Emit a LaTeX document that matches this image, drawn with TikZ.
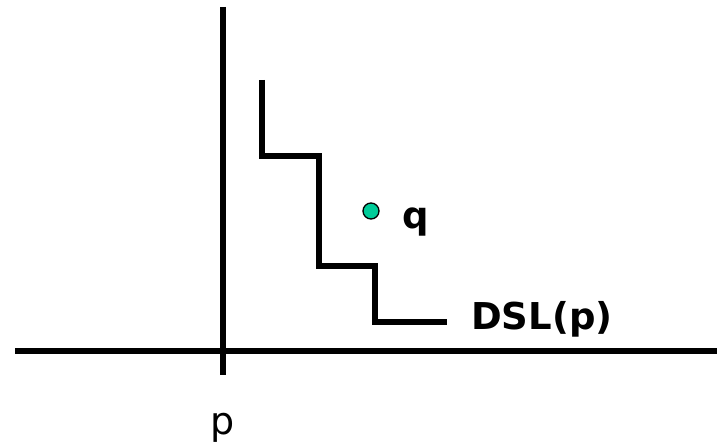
\documentclass[tikz,border=0pt]{standalone}
\usepackage{fontspec}
\setmainfont{DejaVu Sans}
\definecolor{dotgreen}{RGB}{0,204,153}
\begin{document}
\begin{tikzpicture}[x=1pt,y=-1pt,
  axis/.style={line width=6pt,line cap=butt},
  stair/.style={line width=6pt,line cap=butt,line join=miter},
  lbl/.style={inner sep=0pt,font=\fontsize{37}{40}\selectfont\bfseries},
  plbl/.style={inner sep=0pt,font=\fontsize{38}{40}\selectfont}]
\path[use as bounding box] (0,0) rectangle (717,446);
% axes
\coordinate (vtop) at (223,7);
\coordinate (vbot) at (223,375);
\coordinate (hl) at (15,351);
\coordinate (hr) at (717,351);
\draw[axis] (vtop) -- (vbot);
\draw[axis] (hl) -- (hr);
% staircase
\coordinate (s0) at (262,80);
\coordinate (s1) at (262,156);
\coordinate (s2) at (319,156);
\coordinate (s3) at (319,266);
\coordinate (s4) at (375,266);
\coordinate (s5) at (375,322);
\coordinate (s6) at (447,322);
\draw[stair] (s0) -- (s1) -- (s2) -- (s3) -- (s4) -- (s5) -- (s6);
% point q
\node[circle,draw=black,line width=1.3pt,fill=dotgreen,minimum size=16pt,inner sep=0pt] (qdot) at (371,211) {};
\node[lbl,anchor=base] (q) at (416,229) {q};
% labels
\node[lbl,anchor=base west] (dsl) at (471,329) {DSL(p)};
\node[plbl,anchor=base] (p) at (223,434) {p};
\end{tikzpicture}
\end{document}
